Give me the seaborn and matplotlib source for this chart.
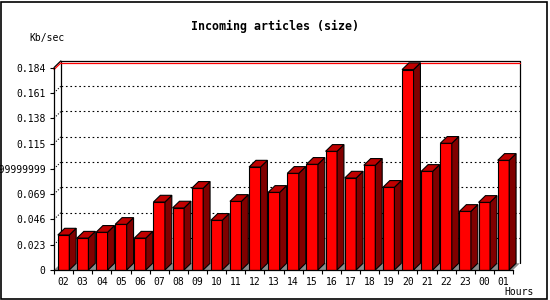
import matplotlib
matplotlib.use("Agg")
import matplotlib.pyplot as plt
import seaborn as sns
from matplotlib.patches import Polygon, Rectangle

# données (Kb/sec par heure)
hours = ["02", "03", "04", "05", "06", "07", "08", "09", "10", "11", "12", "13",
         "14", "15", "16", "17", "18", "19", "20", "21", "22", "23", "00", "01"]
kb_sec = [0.0318, 0.0290, 0.0343, 0.0415, 0.0290, 0.0618, 0.0564, 0.0743,
          0.0452, 0.0624, 0.0936, 0.0706, 0.0879, 0.0961, 0.1079, 0.0836,
          0.0952, 0.0752, 0.1822, 0.0897, 0.1152, 0.0533, 0.0615, 0.0997]
y_ticks = [0, 0.023, 0.046, 0.069, 0.092, 0.115, 0.138, 0.161, 0.184]
y_labels = ["0", "0.023", "0.046", "0.069", "0.09199999999999999",
            "0.115", "0.138", "0.161", "0.184"]

sns.set_style("white")
plt.rcParams["font.family"] = ["DejaVu Sans Mono", "DejaVu Sans"]
plt.rcParams["text.color"] = "black"
plt.rcParams["xtick.color"] = "black"
plt.rcParams["ytick.color"] = "black"
plt.rcParams["axes.labelcolor"] = "black"

fig = plt.figure(figsize=(5.5, 3), dpi=100)
ax = fig.add_axes([54 / 550, 30 / 300, 459 / 550, 202.4 / 300])
ax.patch.set_alpha(0)

# faces avant des barres
sns.barplot(x=hours, y=kb_sec, order=hours, color="#ff0000", saturation=1,
            width=0.6, edgecolor="black", linewidth=0.8, errorbar=None,
            ax=ax, zorder=3)
bars = list(ax.patches)

ax.set_xlim(-0.5, 23.5)
ax.set_ylim(0, 0.184)
x0, x1 = ax.get_xlim()
ytop = ax.get_ylim()[1]

# profondeur de l'effet 3D
dx = 0.36
dy = 0.0061

# sol gris
ax.add_patch(Polygon([(x0, 0), (x1, 0), (x1 + dx, dy), (x0 + dx, dy)],
                     closed=True, facecolor="#8c8c8c", edgecolor="none",
                     zorder=1, clip_on=False))

# dessus et côté de chaque barre
for p in bars:
    bx = p.get_x()
    w = p.get_width()
    h = p.get_height()
    top = Polygon([(bx, h), (bx + w, h), (bx + w + dx, h + dy), (bx + dx, h + dy)],
                  closed=True, facecolor="#c00000", edgecolor="black",
                  linewidth=0.8, zorder=3, clip_on=False)
    side = Polygon([(bx + w, 0), (bx + w + dx, dy), (bx + w + dx, h + dy), (bx + w, h)],
                   closed=True, facecolor="#800000", edgecolor="black",
                   linewidth=0.8, zorder=3, clip_on=False)
    ax.add_patch(side)
    ax.add_patch(top)

# mur du fond et grille pointillée
for t in y_ticks[1:-1]:
    ax.plot([x0 + dx, x1 + dx], [t + dy, t + dy], color="black", lw=0.8,
            ls=(0, (1.5, 2.5)), zorder=1.5, clip_on=False)
    ax.plot([x0, x0 + dx], [t, t + dy], color="black", lw=0.8,
            ls=(0, (1, 1.5)), zorder=1.5, clip_on=False)
ax.plot([x0 + dx, x0 + dx, x1 + dx, x1 + dx], [dy, ytop + dy, ytop + dy, dy],
        color="black", lw=0.9, zorder=1.5, clip_on=False)
ax.plot([x0, x0 + dx], [ytop, ytop + dy], color="black", lw=0.9,
        zorder=1.5, clip_on=False)

# ligne rouge du maximum
m = max(kb_sec)
ax.plot([x0 + dx, x1 + dx], [m + dy, m + dy], color="red", lw=0.9,
        zorder=1.6, clip_on=False)
ax.plot([x0, x0 + dx], [m, m + dy], color="red", lw=0.9,
        zorder=1.6, clip_on=False)

# axes
for s in ["top", "right"]:
    ax.spines[s].set_visible(False)
for s in ["left", "bottom"]:
    ax.spines[s].set_color("black")
    ax.spines[s].set_linewidth(0.9)
    ax.spines[s].set_zorder(4)

ax.set_yticks(y_ticks)
ax.set_yticklabels(y_labels)
ax.tick_params(axis="y", length=3, width=0.8, direction="out", pad=3,
               labelsize=7, left=True, color="black", labelcolor="black")
ax.set_xticks(range(len(hours)))
ax.set_xticklabels(hours)
ax.set_xticks([i - 0.5 for i in range(len(hours) + 1)], minor=True)
ax.tick_params(axis="x", which="major", length=0, pad=5, labelsize=7,
               labelcolor="black")
ax.tick_params(axis="x", which="minor", length=3, width=0.8,
               direction="out", bottom=True, color="black")
ax.set_xlabel("")
ax.set_ylabel("")

# textes
fig.text(0.5, 1 - 26 / 300, "Incoming articles (size)", ha="center",
         va="center", fontsize=8.4, fontweight="bold", color="black")
fig.text(47 / 550, 1 - 37.5 / 300, "Kb/sec", ha="center", va="center",
         fontsize=7, color="black")
fig.text(519 / 550, 1 - 292 / 300, "Hours", ha="center", va="center",
         fontsize=7, color="black")

# cadre
fig.add_artist(Rectangle((0.5 / 550, 1.5 / 300), 546 / 550, 297 / 300,
                         transform=fig.transFigure, fill=False,
                         edgecolor="black", linewidth=1.2))

fig.savefig("out.png", dpi=100)
